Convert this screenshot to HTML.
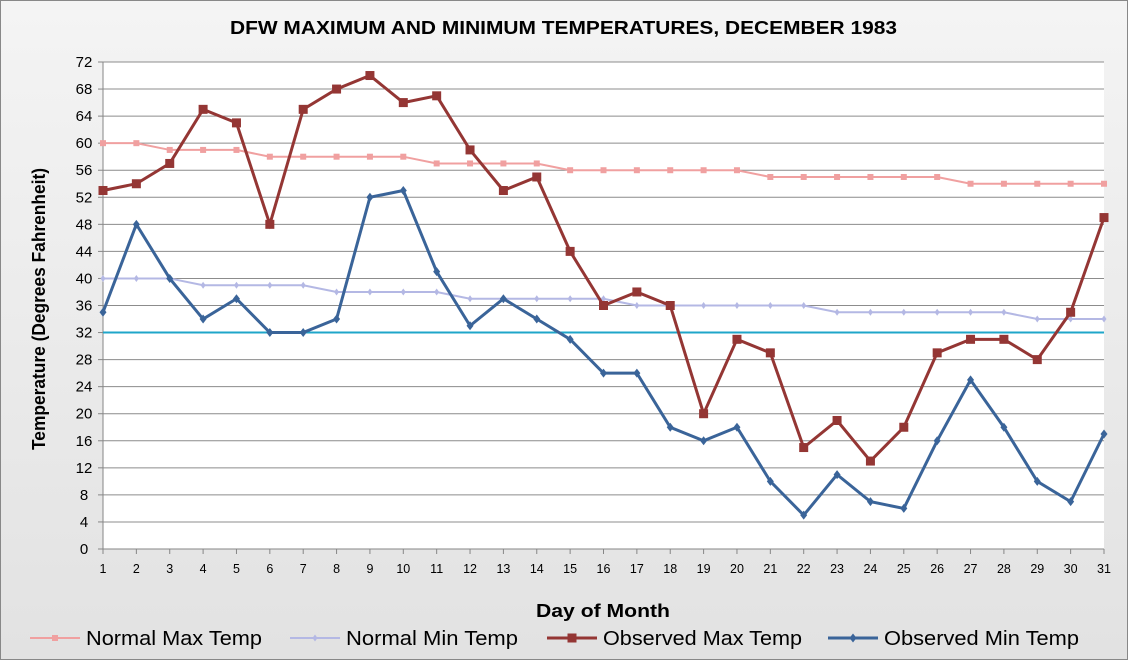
<!DOCTYPE html>
<html><head><meta charset="utf-8"><style>
html,body{margin:0;padding:0;background:#fff}
svg{display:block;font-family:"Liberation Sans",Arial,sans-serif}
</style></head><body>
<svg id="s" width="1128" height="660" xmlns="http://www.w3.org/2000/svg">
<defs><linearGradient id="bg" x1="0" y1="0" x2="0" y2="1"><stop offset="0" stop-color="#f4f4f4"/><stop offset="1" stop-color="#e2e2e2"/></linearGradient></defs>
<rect x="0.5" y="0.5" width="1127" height="659" fill="url(#bg)" stroke="#888"/>
<rect x="103" y="62" width="1001" height="487" fill="#fff"/>
<text x="230" y="34" textLength="667" lengthAdjust="spacingAndGlyphs" font-size="18" font-weight="bold" fill="#000">DFW MAXIMUM AND MINIMUM TEMPERATURES, DECEMBER 1983</text>
<text x="536" y="617" textLength="134" lengthAdjust="spacingAndGlyphs" font-size="18" font-weight="bold">Day of Month</text>
<text transform="translate(45,309) rotate(-90)" text-anchor="middle" textLength="282" lengthAdjust="spacingAndGlyphs" font-size="18" font-weight="bold">Temperature (Degrees Fahrenheit)</text>
<g id="g"></g>
</svg>
<script>
var g=document.getElementById('g'),h='';
function Y(v){return 549-v*487/72}
function X(d){return 103+(d-1)*1001/30}
for(var v=0;v<=72;v+=4){var y=Y(v);
 if(v>0)h+='<line x1="103" x2="1104" y1="'+y+'" y2="'+y+'" stroke="#8c8c8c" stroke-width="1"/>';
 h+='<line x1="98" x2="103" y1="'+y+'" y2="'+y+'" stroke="#868686"/>';
 h+='<text x="84" y="'+(y+5)+'" text-anchor="middle" font-size="15">'+v+'</text>';}
h+='<line x1="103" x2="103" y1="62" y2="549" stroke="#868686"/><line x1="103" x2="1104" y1="549" y2="549" stroke="#868686"/>';
for(var d=1;d<=31;d++){var x=X(d);h+='<line x1="'+x+'" x2="'+x+'" y1="549" y2="554" stroke="#868686"/><text x="'+x+'" y="573" text-anchor="middle" font-size="12.5">'+d+'</text>';}
h+='<line x1="103" x2="1104" y1="'+Y(32)+'" y2="'+Y(32)+'" stroke="#1fa6c9" stroke-width="2"/>';
var S=[
 [[60,60,59,59,59,58,58,58,58,58,57,57,57,57,56,56,56,56,56,56,55,55,55,55,55,55,54,54,54,54,54],'#f0a0a0','sq',5],
 [[40,40,40,39,39,39,39,38,38,38,38,37,37,37,37,37,36,36,36,36,36,36,35,35,35,35,35,35,34,34,34],'#b4b8e4','dm',5],
 [[53,54,57,65,63,48,65,68,70,66,67,59,53,55,44,36,38,36,20,31,29,15,19,13,18,29,31,31,28,35,49],'#943634','sq',8],
 [[35,48,40,34,37,32,32,34,52,53,41,33,37,34,31,26,26,18,16,18,10,5,11,7,6,16,25,18,10,7,17],'#3a6499','dm',7]];
function mk(t,x,y,c,s){if(t=='sq')return '<rect x="'+(x-s/2)+'" y="'+(y-s/2)+'" width="'+s+'" height="'+s+'" fill="'+c+'" stroke="'+c+'"/>';
 return '<polygon points="'+x+','+(y-s/2-1)+' '+(x+s/2)+','+y+' '+x+','+(y+s/2+1)+' '+(x-s/2)+','+y+'" fill="'+c+'"/>';}
S.forEach(function(s){var p=s[0].map(function(v,i){return X(i+1)+','+Y(v)}).join(' ');
 h+='<polyline points="'+p+'" fill="none" stroke="'+s[1]+'" stroke-width="'+(s[3]>6?3:2)+'"/>';
 s[0].forEach(function(v,i){h+=mk(s[2],X(i+1),Y(v),s[1],s[3])});});
var L=[[30,'Normal Max Temp',0,176],[290,'Normal Min Temp',1,172],[547,'Observed Max Temp',2,199],[828,'Observed Min Temp',3,195]];
L.forEach(function(l){var s=S[l[2]],y=638;h+='<line x1="'+l[0]+'" x2="'+(l[0]+50)+'" y1="'+y+'" y2="'+y+'" stroke="'+s[1]+'" stroke-width="'+(s[3]>6?3:2)+'"/>'+mk(s[2],l[0]+25,y,s[1],s[3])+'<text x="'+(l[0]+56)+'" y="'+(y+7)+'" font-size="20" textLength="'+l[3]+'" lengthAdjust="spacingAndGlyphs">'+l[1]+'</text>';});
g.innerHTML=h;
</script>
</body></html>
